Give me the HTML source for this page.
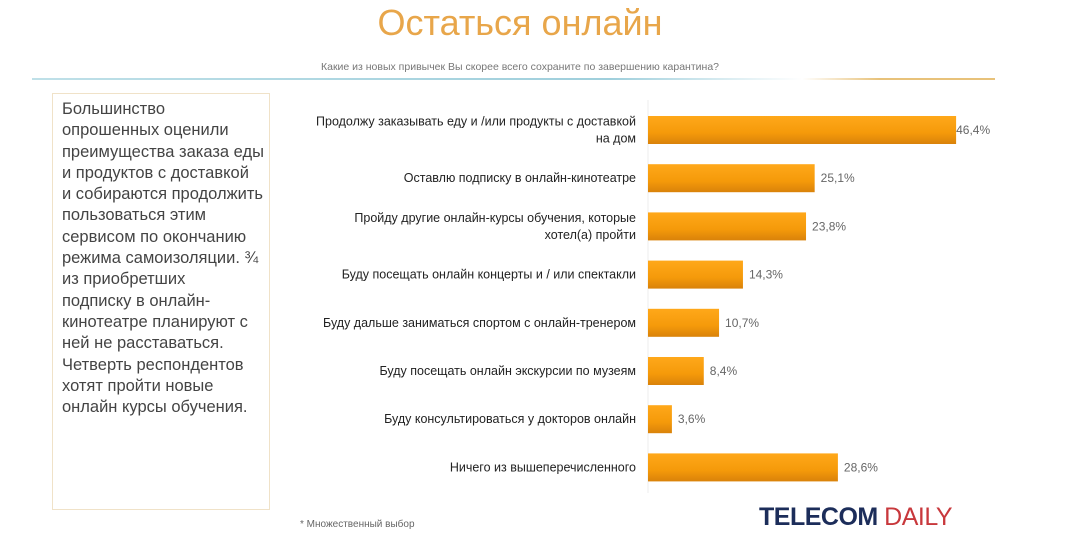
<!DOCTYPE html>
<html><head><meta charset="utf-8"><style>
body{margin:0;width:1065px;height:545px;background:#fff;overflow:hidden;position:relative;font-family:"Liberation Sans",sans-serif}
.abs{position:absolute}
</style></head><body>
<div class="abs" style="left:0;width:1040px;top:2px;text-align:center;font-size:36px;color:#E8A64A;font-family:'Liberation Sans Narrow','Liberation Sans',sans-serif">Остаться онлайн</div>
<div class="abs" style="left:0;width:1040px;top:61px;text-align:center;font-size:10.5px;color:#777">Какие из новых привычек Вы скорее всего сохраните по завершению карантина?</div>
<div class="abs" style="left:32px;top:78px;width:963px;height:2px;background:linear-gradient(90deg,#bfe0e8,#9fcfdc 60%,#fff 80%,#e8c27a 88%,#e8c27a 100%)"></div>
<div class="abs" style="left:52px;top:93px;width:218px;height:417px;border:1px solid #f0e2c8;box-sizing:border-box;padding:5px 0 0 9px;font-size:16.5px;line-height:21.3px;color:#444;white-space:nowrap">Большинство<br>опрошенных оценили<br>преимущества заказа еды<br>и продуктов с доставкой<br>и собираются продолжить<br>пользоваться этим<br>сервисом по окончанию<br>режима самоизоляции. ¾<br>из приобретших<br>подписку в онлайн-<br>кинотеатре планируют с<br>ней не расставаться.<br>Четверть респондентов<br>хотят пройти новые<br>онлайн курсы обучения.</div>
<div class="abs" style="left:300px;top:519px;font-size:10px;color:#666">* Множественный выбор</div>
<div class="abs" style="left:759px;top:503px;font-size:25px;font-weight:bold;color:#1c2d5a;letter-spacing:-0.5px;font-family:'Liberation Sans Narrow','Liberation Sans',sans-serif">TELECOM <span style="color:#c8383c;font-weight:normal">DAILY</span></div>
<svg id="chart" class="abs" style="left:0;top:0" width="1065" height="545"></svg>
<script>
const categories=[["Продолжу заказывать еду и /или продукты с доставкой","на дом"],["Оставлю подписку в онлайн-кинотеатре"],["Пройду другие онлайн-курсы обучения, которые","хотел(а) пройти"],["Буду посещать онлайн концерты и / или спектакли"],["Буду дальше заниматься спортом с онлайн-тренером"],["Буду посещать онлайн экскурсии по музеям"],["Буду консультироваться у докторов онлайн"],["Ничего из вышеперечисленного"]];
const values=[46.4,25.1,23.8,14.3,10.7,8.4,3.6,28.6];
const valueLabels=["46,4%","25,1%","23,8%","14,3%","10,7%","8,4%","3,6%","28,6%"];
const NS="http://www.w3.org/2000/svg",svg=document.getElementById('chart');
const x0=648,scaleX=v=>v*6.64,y=i=>130+i*48.2,bh=28;
const defs=document.createElementNS(NS,'defs');
defs.innerHTML='<linearGradient id="g" x1="0" y1="0" x2="0" y2="1"><stop offset="0" stop-color="#ffa81a"/><stop offset="0.6" stop-color="#f59a0a"/><stop offset="1" stop-color="#d9820a"/></linearGradient>';
svg.appendChild(defs);
const ax=document.createElementNS(NS,'line');


ax.setAttribute('x1',x0);ax.setAttribute('x2',x0);ax.setAttribute('y1',100);ax.setAttribute('y2',493);ax.setAttribute('stroke','#eee');
svg.appendChild(ax);
values.forEach((v,i)=>{
 const r=document.createElementNS(NS,'rect');
 
 
 r.setAttribute('x',x0);r.setAttribute('y',y(i)-bh/2);r.setAttribute('width',scaleX(v));r.setAttribute('height',bh);r.setAttribute('fill','url(#g)');
 svg.appendChild(r);
 const t=document.createElementNS(NS,'text');
 
 
 t.setAttribute('x',x0+scaleX(v)+(i==0?0:6));t.setAttribute('y',y(i)+4);t.setAttribute('font-size','12');t.setAttribute('fill','#666');
 t.textContent=valueLabels[i];svg.appendChild(t);
 const lines=categories[i];
 lines.forEach((s,k)=>{
  const c=document.createElementNS(NS,'text');
  
  
  c.setAttribute('x',636);c.setAttribute('text-anchor','end');
  c.setAttribute('y',y(i)+4+(k-(lines.length-1)/2)*17);
  c.setAttribute('font-size','12.5');c.setAttribute('fill','#222');
  c.textContent=s;svg.appendChild(c);
 });
});
</script>
</body></html>
